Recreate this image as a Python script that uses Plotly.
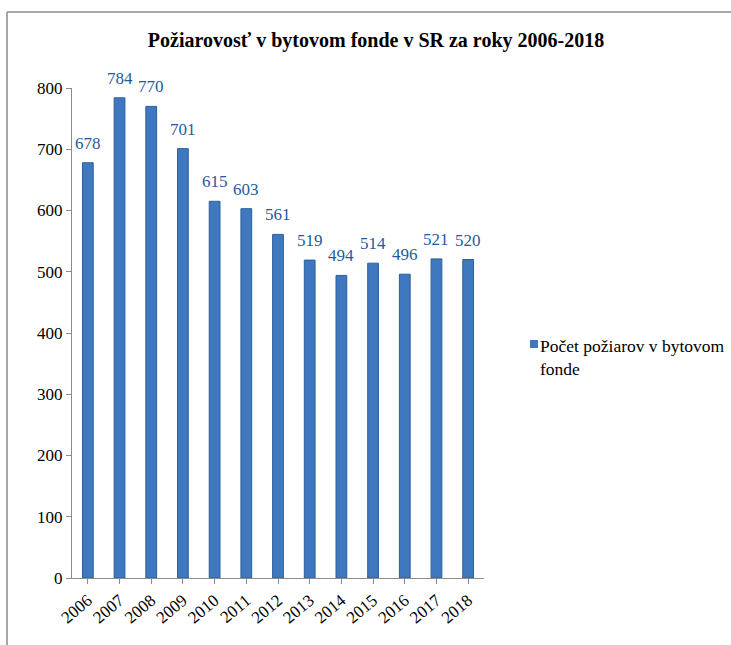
import plotly.graph_objects as go

years = ["2006", "2007", "2008", "2009", "2010", "2011", "2012",
         "2013", "2014", "2015", "2016", "2017", "2018"]
fires = [678, 784, 770, 701, 615, 603, 561, 519, 494, 514, 496, 521, 520]
y_ticks = [0, 100, 200, 300, 400, 500, 600, 700, 800]
series_name = "Počet požiarov v bytovom<br>fonde"

W, H = 731, 645
L, R, T, B = 72, 247, 88, 67
pw, ph = W - L - R, H - T - B

def px_x(x):
    return (x - L) / pw

def px_y(y):
    return (H - B - y) / ph

serif = "Liberation Serif"
bar_color = "#3f78bf"

fig = go.Figure()
fig.add_trace(go.Bar(
    x=years, y=fires,
    name=series_name,
    marker=dict(color=bar_color, line=dict(color="#2c5f9e", width=1)),
    width=0.34,
    showlegend=False,
))

for i, v in enumerate(fires):
    fig.add_annotation(x=i, y=v, text=str(v), showarrow=False,
                       xref="x", yref="y",
                       yanchor="bottom", yshift=8,
                       font=dict(family=serif, size=17, color="#1f5a9e"))

# legend (drawn manually so it does not push the plot margins)
fig.add_annotation(x=px_x(538), y=px_y(334), xref="paper", yref="paper",
                   text=series_name, showarrow=False, align="left",
                   xanchor="left", yanchor="top",
                   font=dict(family=serif, size=17.5, color="black"))

fig.update_layout(
    width=W, height=H,
    margin=dict(l=L, r=R, t=T, b=B),
    paper_bgcolor="white", plot_bgcolor="white",
    showlegend=False,
    title=dict(text="<b>Požiarovosť v bytovom fonde v SR za roky 2006-2018</b>",
               x=px_x(376), xref="paper", xanchor="center",
               y=1 - 40 / H, yanchor="middle",
               font=dict(family=serif, size=20, color="black")),
    xaxis=dict(type="category", range=[-0.5, 12.5],
               showline=True, linecolor="#8c8c8c", linewidth=1,
               ticks="outside", ticklen=5, tickcolor="#8c8c8c",
               tickangle=-40,
               tickfont=dict(family=serif, size=17, color="black"),
               showgrid=False),
    yaxis=dict(range=[0, 800], tickvals=y_ticks,
               showline=True, linecolor="#8c8c8c", linewidth=1,
               ticks="outside", ticklen=5, tickcolor="#8c8c8c",
               tickfont=dict(family=serif, size=17, color="black"),
               showgrid=False, zeroline=False),
    shapes=[
        dict(type="line", xref="paper", yref="paper",
             x0=px_x(7), x1=px_x(W + 5), y0=px_y(12), y1=px_y(12),
             line=dict(color="#8a8a8a", width=1.5)),
        dict(type="line", xref="paper", yref="paper",
             x0=px_x(7), x1=px_x(7), y0=px_y(12), y1=px_y(H + 5),
             line=dict(color="#8a8a8a", width=1.5)),
        dict(type="rect", xref="paper", yref="paper",
             x0=px_x(530), x1=px_x(538), y0=px_y(340), y1=px_y(348),
             fillcolor=bar_color, line=dict(width=0)),
    ],
)

fig.write_html("out.html",
               config={"displayModeBar": False},
               post_script="document.body.style.margin='0';document.body.style.overflow='hidden';")
